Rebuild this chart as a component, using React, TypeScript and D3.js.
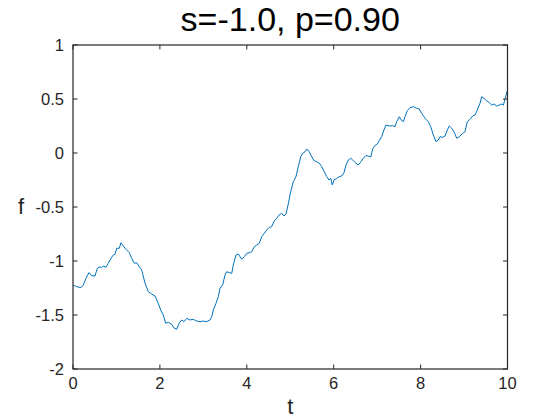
import React from "react";
import * as d3 from "d3";

const tValues = [0, 0.085, 0.184, 0.237, 0.299, 0.368, 0.43, 0.506, 0.559, 0.621, 0.661, 0.697, 0.759, 0.812, 0.875, 0.928, 0.967, 1.006, 1.066, 1.105, 1.158, 1.22, 1.296, 1.351, 1.411, 1.466, 1.526, 1.581, 1.657, 1.733, 1.811, 1.887, 1.963, 2.018, 2.078, 2.133, 2.193, 2.272, 2.331, 2.387, 2.44, 2.502, 2.555, 2.617, 2.693, 2.769, 2.847, 2.923, 2.999, 3.077, 3.153, 3.192, 3.229, 3.291, 3.344, 3.383, 3.445, 3.498, 3.537, 3.597, 3.653, 3.689, 3.751, 3.804, 3.883, 3.942, 3.998, 4.058, 4.113, 4.173, 4.228, 4.288, 4.343, 4.403, 4.458, 4.518, 4.573, 4.633, 4.688, 4.741, 4.803, 4.856, 4.902, 4.955, 5.01, 5.07, 5.132, 5.185, 5.24, 5.287, 5.34, 5.379, 5.438, 5.494, 5.547, 5.609, 5.669, 5.724, 5.784, 5.839, 5.892, 5.931, 5.968, 6.007, 6.069, 6.129, 6.184, 6.237, 6.283, 6.336, 6.391, 6.451, 6.513, 6.566, 6.628, 6.681, 6.743, 6.796, 6.852, 6.898, 6.951, 7.004, 7.05, 7.105, 7.158, 7.204, 7.28, 7.358, 7.411, 7.45, 7.51, 7.565, 7.602, 7.641, 7.694, 7.756, 7.832, 7.91, 7.97, 8.025, 8.078, 8.124, 8.177, 8.233, 8.292, 8.354, 8.407, 8.447, 8.509, 8.562, 8.615, 8.661, 8.716, 8.769, 8.831, 8.891, 8.969, 9.022, 9.075, 9.137, 9.199, 9.252, 9.305, 9.367, 9.406, 9.459, 9.521, 9.581, 9.636, 9.689, 9.752, 9.811, 9.867, 9.906, 9.958, 10.0];

const fValues = [-1.222, -1.238, -1.247, -1.222, -1.16, -1.108, -1.136, -1.139, -1.068, -1.053, -1.062, -1.046, -1.058, -1.021, -0.975, -0.944, -0.938, -0.882, -0.882, -0.831, -0.861, -0.892, -0.923, -0.975, -1.021, -1.016, -1.053, -1.083, -1.205, -1.284, -1.306, -1.324, -1.392, -1.454, -1.5, -1.577, -1.568, -1.586, -1.623, -1.632, -1.577, -1.546, -1.562, -1.531, -1.546, -1.54, -1.556, -1.562, -1.556, -1.562, -1.546, -1.516, -1.454, -1.392, -1.331, -1.253, -1.222, -1.13, -1.099, -1.108, -1.114, -1.037, -0.944, -0.935, -0.984, -0.96, -0.929, -0.923, -0.914, -0.868, -0.852, -0.836, -0.775, -0.744, -0.713, -0.688, -0.682, -0.627, -0.605, -0.574, -0.558, -0.583, -0.565, -0.472, -0.358, -0.266, -0.219, -0.127, -0.034, -0.003, 0.012, 0.037, 0.012, -0.034, -0.071, -0.081, -0.095, -0.127, -0.173, -0.219, -0.25, -0.234, -0.296, -0.25, -0.234, -0.219, -0.213, -0.182, -0.111, -0.065, -0.049, -0.071, -0.095, -0.111, -0.081, -0.049, -0.023, -0.028, -0.037, 0.037, 0.069, 0.083, 0.116, 0.153, 0.213, 0.259, 0.25, 0.253, 0.244, 0.29, 0.336, 0.299, 0.29, 0.336, 0.392, 0.419, 0.429, 0.414, 0.407, 0.367, 0.336, 0.312, 0.29, 0.244, 0.167, 0.105, 0.12, 0.151, 0.145, 0.157, 0.213, 0.25, 0.229, 0.197, 0.136, 0.151, 0.182, 0.197, 0.29, 0.312, 0.343, 0.352, 0.398, 0.46, 0.521, 0.506, 0.484, 0.466, 0.444, 0.454, 0.435, 0.444, 0.454, 0.444, 0.521, 0.583];

const xTicks = [0, 2, 4, 6, 8, 10];
const yTicks = [-2, -1.5, -1, -0.5, 0, 0.5, 1];
const yTickLabels = ["-2", "-1.5", "-1", "-0.5", "0", "0.5", "1"];
const titleText = "s=-1.0, p=0.90";
const xLabel = "t";
const yLabel = "f";

const W = 560;
const H = 420;
const left = 73;
const right = 507.5;
const top = 45;
const bottom = 369;
const FONT = "'Liberation Sans', Arial, Helvetica, sans-serif";
const AXIS = "#262626";

export default function App() {
  const x = d3.scaleLinear().domain([0, 10]).range([left, right]);
  const y = d3.scaleLinear().domain([-2, 1]).range([bottom, top]);
  const pts = tValues.map((t, i) => [t, fValues[i]] as [number, number]);
  const line = d3
    .line<[number, number]>()
    .x((d) => x(d[0]))
    .y((d) => y(d[1]));
  const tl = 4.5;
  return (
    <svg
      width={W}
      height={H}
      style={{ position: "absolute", left: 0, top: 0, background: "#fff" }}
    >
      <rect x={0} y={0} width={W} height={H} fill="#fff" />
      <path d={line(pts) || ""} fill="none" stroke="#0072BD" strokeWidth={1} />
      <rect
        x={left}
        y={top}
        width={right - left}
        height={bottom - top}
        fill="none"
        stroke={AXIS}
        strokeWidth={1.2}
      />
      {xTicks.map((t) => (
        <g key={"x" + t}>
          <line x1={x(t)} x2={x(t)} y1={bottom} y2={bottom - tl} stroke={AXIS} strokeWidth={1} />
          <line x1={x(t)} x2={x(t)} y1={top} y2={top + tl} stroke={AXIS} strokeWidth={1} />
          <text
            x={x(t)}
            y={bottom + 20}
            textAnchor="middle"
            fontFamily={FONT}
            fontSize={16.5}
            fill={AXIS}
          >
            {String(t)}
          </text>
        </g>
      ))}
      {yTicks.map((v, i) => (
        <g key={"y" + v}>
          <line x1={left} x2={left + tl} y1={y(v)} y2={y(v)} stroke={AXIS} strokeWidth={1} />
          <line x1={right} x2={right - tl} y1={y(v)} y2={y(v)} stroke={AXIS} strokeWidth={1} />
          <text
            x={left - 9}
            y={y(v) + 5.5}
            textAnchor="end"
            fontFamily={FONT}
            fontSize={16.5}
            fill={AXIS}
          >
            {yTickLabels[i]}
          </text>
        </g>
      ))}
      <text
        x={(left + right) / 2}
        y={31}
        textAnchor="middle"
        fontFamily={FONT}
        fontSize={34}
        fill="#000"
      >
        {titleText}
      </text>
      <text
        x={(left + right) / 2}
        y={414}
        textAnchor="middle"
        fontFamily={FONT}
        fontSize={22}
        fill={AXIS}
      >
        {xLabel}
      </text>
      <text
        x={21}
        y={214}
        textAnchor="middle"
        fontFamily={FONT}
        fontSize={22}
        fill={AXIS}
      >
        {yLabel}
      </text>
    </svg>
  );
}
